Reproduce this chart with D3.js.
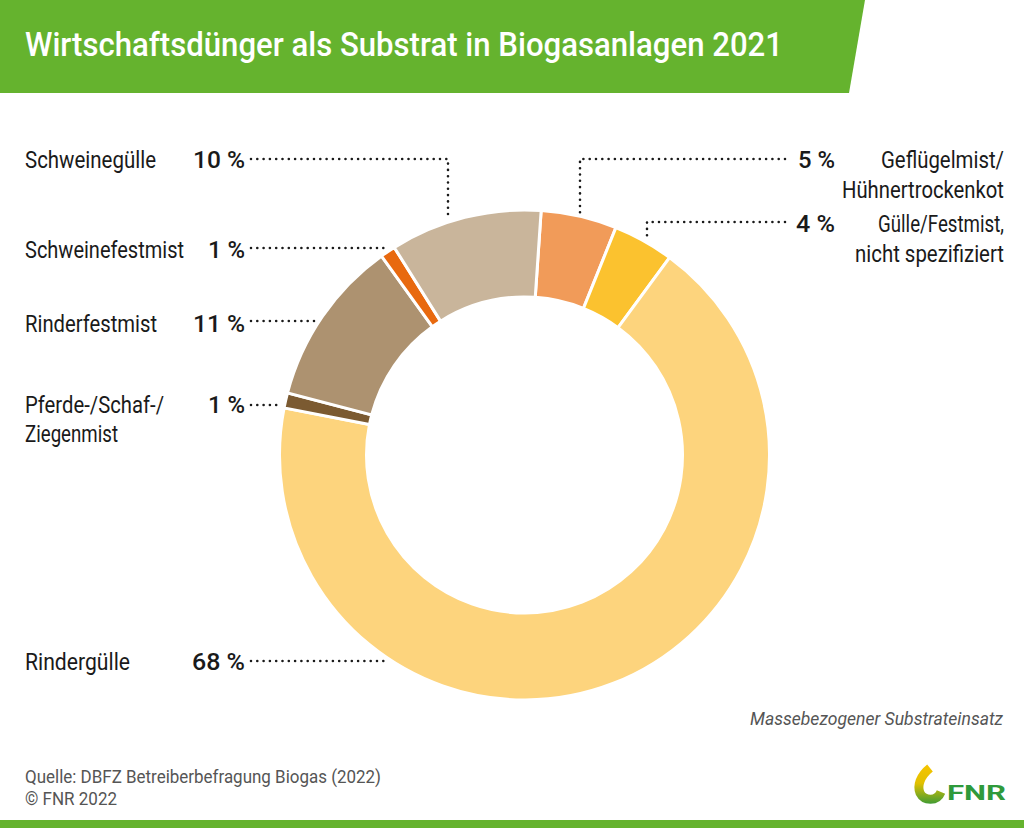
<!DOCTYPE html>
<html><head><meta charset="utf-8">
<script src="https://cdn.jsdelivr.net/npm/d3@7/dist/d3.min.js"></script>
<style>
html,body{margin:0;padding:0;background:#fff;}
svg{display:block;}
</style></head>
<body>
<svg id="chart" width="1024" height="828"></svg>
<script>
// ---- data ----
const categories = ["Geflügelmist/\nHühnertrockenkot", "Gülle/Festmist,\nnicht spezifiziert", "Rindergülle", "Pferde-/Schaf-/\nZiegenmist", "Rinderfestmist", "Schweinefestmist", "Schweinegülle"];
const values = [5, 4, 68, 1, 11, 1, 10];
const percentLabels = ["5 %", "4 %", "68 %", "1 %", "11 %", "1 %", "10 %"];
const colors = ["#f19b59", "#fbc22f", "#fdd47d", "#7b5a31", "#ad9270", "#e8690f", "#c9b59b"];
const title = "Wirtschaftsdünger als Substrat in Biogasanlagen 2021";
const note = "Massebezogener Substrateinsatz";
const sourceLines = ["Quelle: DBFZ Betreiberbefragung  Biogas (2022)", "© FNR 2022"];

// ---- layout (positions / widths only) ----
const cx = 524.5, cy = 455, rOuter = 245, rInner = 158;
const startAngle = 0.068;
const layout = [
  {side:"right", y:168, ly:159, vx:580, pw:37, nw:[123,162]},
  {side:"right", y:232, ly:222, vx:647, pw:39, nw:[126,149]},
  {side:"left",  y:670, ly:661, pw:53, nw:[105]},
  {side:"left",  y:413, ly:405, pw:37, nw:[139,93]},
  {side:"left",  y:332, ly:321, pw:52, nw:[132]},
  {side:"left",  y:258, ly:248, pw:37, nw:[159]},
  {side:"left",  y:168, ly:159, vx:448, pw:52, nw:[131]}
];

const FONT = "Roboto,'Open Sans',sans-serif";
const svg = d3.select("#chart");
function fit(sel, w){ return sel.attr("textLength", w).attr("lengthAdjust","spacingAndGlyphs"); }

// banner
const green = "#65b32e";
svg.append("path").attr("d","M0,0 L865,0 L849,93 L0,93 Z").attr("fill",green);
svg.append("text").attr("x",25).attr("y",56).text(title)
  .attr("font-family",FONT).attr("font-weight",500).attr("font-size",33).attr("fill","#fff")
  .call(fit, 758);

// donut
const pie = d3.pie().sort(null).value(d=>d).startAngle(startAngle).endAngle(startAngle+2*Math.PI);
const arcs = pie(values);
const arc = d3.arc().innerRadius(rInner).outerRadius(rOuter);
const g = svg.append("g").attr("transform",`translate(${cx},${cy})`);
g.selectAll("path").data(arcs).join("path")
  .attr("d",arc).attr("fill",(d,i)=>colors[i])
  .attr("stroke","#fff").attr("stroke-width",3).attr("stroke-linejoin","miter");

// leaders & labels
const gap = 4;
const dotStyle = sel => sel.attr("fill","none").attr("stroke","#1a1a1a").attr("stroke-width",2.6)
  .attr("stroke-linecap","round").attr("stroke-dasharray","0 6.3");
layout.forEach((L,i)=>{
  let pts;
  if (L.side==="left") {
    const x0 = 251;
    if (L.vx!==undefined) {
      const ye = cy - Math.sqrt(rOuter*rOuter - (L.vx-cx)*(L.vx-cx)) - gap;
      pts = [[x0,L.ly],[L.vx,L.ly],[L.vx,ye]];
    } else {
      const dy = L.ly-cy;
      const xe = cx - Math.sqrt(rOuter*rOuter - dy*dy) - gap;
      pts = [[x0,L.ly],[xe,L.ly]];
    }
  } else {
    const x0 = 785;
    const ye = cy - Math.sqrt(rOuter*rOuter - (L.vx-cx)*(L.vx-cx)) - gap;
    pts = [[x0,L.ly],[L.vx,L.ly],[L.vx,ye]];
  }
  svg.append("path").attr("d",d3.line()(pts)).call(dotStyle);

  const lines = categories[i].split("\n");
  const px = (L.side==="left" ? 245 : 835) - L.pw;
  svg.append("text").attr("x",px).attr("y",L.y)
    .attr("font-family",FONT).attr("font-weight",500).attr("font-size",24).attr("fill","#1a1a1a")
    .text(percentLabels[i]).call(fit, L.pw);
  lines.forEach((t,k)=>svg.append("text")
    .attr("x", L.side==="left" ? 25 : 1004-L.nw[k])
    .attr("y",L.y+k*(L.side==="left"?29:30))
    .attr("font-family",FONT).attr("font-size",23).attr("fill","#1a1a1a").text(t).call(fit, L.nw[k]));
});

// note
svg.append("text").attr("x",750).attr("y",725)
  .attr("font-family",FONT).attr("font-style","italic").attr("font-size",17.5).attr("fill","#555")
  .text(note).call(fit, 253);

// source
const srcW = [356, 92];
sourceLines.forEach((t,k)=>svg.append("text").attr("x",25).attr("y",783+k*22)
  .attr("font-family",FONT).attr("font-size",18.5).attr("fill","#555").text(t).call(fit, srcW[k]));

// bottom bar
svg.append("rect").attr("x",0).attr("y",820).attr("width",1024).attr("height",8).attr("fill",green);

// FNR logo
const defs = svg.append("defs");
const lg = defs.append("linearGradient").attr("id","lg").attr("gradientUnits","userSpaceOnUse")
  .attr("x1",0).attr("y1",766).attr("x2",0).attr("y2",804);
lg.append("stop").attr("offset","0%").attr("stop-color","#f4c400");
lg.append("stop").attr("offset","45%").attr("stop-color","#e2c000");
lg.append("stop").attr("offset","100%").attr("stop-color","#3f9b34");
svg.append("path")
  .attr("d","M930,768 C920,776 917,786 920,793 C924,801 937,802 941,792")
  .attr("fill","none").attr("stroke","url(#lg)").attr("stroke-width",9);
svg.append("text").attr("x",947).attr("y",800).text("FNR")
  .attr("font-family","Roboto,sans-serif").attr("font-weight","bold")
  .attr("font-size",20).attr("fill","#2f9a3b").call(fit, 59);
</script>
</body></html>
